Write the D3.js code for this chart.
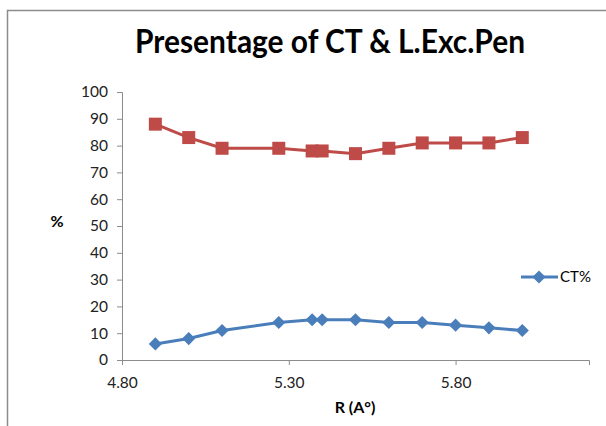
<!DOCTYPE html>
<html>
<head>
<meta charset="utf-8">
<script src="https://cdn.jsdelivr.net/npm/d3@7"></script>
<style>
  body { margin: 0; background: #fff; }
  text { font-family: Lato, "Liberation Sans", sans-serif; }
</style>
</head>
<body>
<div id="chart"></div>
<script>
// R (A°) values
const rValues = [4.90, 5.00, 5.10, 5.27, 5.37, 5.40, 5.50, 5.60, 5.70, 5.80, 5.90, 6.00];
// CT %
const ctPct = [6, 8, 11, 14, 15, 15, 15, 14, 14, 13, 12, 11];
// L.Exc.Pen %
const excPct = [88, 83, 79, 79, 78, 78, 77, 79, 81, 81, 81, 83];
const xTicks = [4.80, 5.30, 5.80];
const yTicks = [0, 10, 20, 30, 40, 50, 60, 70, 80, 90, 100];

const width = 606, height = 426;

const x = d3.scaleLinear().domain([4.8, 6.2]).range([122, 589]);
const y = d3.scaleLinear().domain([0, 100]).range([360, 92]);

const svg = d3.select('#chart').append('svg')
    .attr('width', width)
    .attr('height', height);

// chart frame
svg.append('path')
    .attr('d', 'M7.5,' + height + 'V10.5H' + width)
    .attr('fill', 'none')
    .attr('stroke', '#8c8c8c')
    .attr('stroke-width', 1.5);

// title
svg.append('text')
    .attr('x', 330)
    .attr('y', 53)
    .attr('text-anchor', 'middle')
    .attr('textLength', 390)
    .attr('lengthAdjust', 'spacingAndGlyphs')
    .style('font-size', '32px')
    .style('font-weight', 'bold')
    .text('Presentage of CT & L.Exc.Pen');

// axes
const xAxis = svg.append('g')
    .attr('transform', 'translate(0,' + y(0) + ')')
    .call(d3.axisBottom(x).tickValues(xTicks).tickFormat(d3.format('.2f')).tickSizeOuter(0).tickSize(5));

const yAxis = svg.append('g')
    .attr('transform', 'translate(' + x(4.8) + ',0)')
    .call(d3.axisLeft(y).tickValues(yTicks).tickSizeOuter(0).tickSize(5));

[xAxis, yAxis].forEach(function(a) {
  a.select('.domain').attr('stroke', '#8c8c8c');
  a.selectAll('.tick line').attr('stroke', '#8c8c8c');
  a.selectAll('.tick text')
      .style('font-size', '15.5px')
      .style('font-family', 'Lato, "Liberation Sans", sans-serif')
      .attr('fill', '#222');
});
yAxis.selectAll('.tick text').attr('x', -14);
xAxis.selectAll('.tick text').attr('y', 17);

// axis titles
svg.append('text')
    .attr('x', 57)
    .attr('y', 227)
    .attr('text-anchor', 'middle')
    .style('font-size', '16px')
    .style('font-weight', 'bold')
    .text('%');

svg.append('text')
    .attr('x', 355)
    .attr('y', 413)
    .attr('text-anchor', 'middle')
    .style('font-size', '16px')
    .style('font-weight', 'bold')
    .text('R (A°)');

const data = rValues.map(function(r, i) {
  return { r: r, ct: ctPct[i], exc: excPct[i] };
});

const ctLine = d3.line()
    .x(function(d) { return x(d.r); })
    .y(function(d) { return y(d.ct); });

const excLine = d3.line()
    .x(function(d) { return x(d.r); })
    .y(function(d) { return y(d.exc); });

const blue = '#4a7ebb', red = '#be4b48';

svg.append('path')
    .datum(data)
    .attr('fill', 'none')
    .attr('stroke', red)
    .attr('stroke-width', 3)
    .attr('d', excLine);

svg.selectAll('.sq')
    .data(data)
  .enter().append('rect')
    .attr('class', 'sq')
    .attr('x', function(d) { return x(d.r) - 6.5; })
    .attr('y', function(d) { return y(d.exc) - 6.5; })
    .attr('width', 13)
    .attr('height', 13)
    .attr('fill', red);

svg.append('path')
    .datum(data)
    .attr('fill', 'none')
    .attr('stroke', blue)
    .attr('stroke-width', 3)
    .attr('d', ctLine);

const diamond = d3.symbol().type(d3.symbolDiamond2).size(110);

svg.selectAll('.dm')
    .data(data)
  .enter().append('path')
    .attr('class', 'dm')
    .attr('transform', function(d) { return 'translate(' + x(d.r) + ',' + y(d.ct) + ')'; })
    .attr('d', diamond)
    .attr('fill', blue);

// legend
const legend = svg.append('g').attr('transform', 'translate(521,277)');
legend.append('line')
    .attr('x1', 0).attr('x2', 37)
    .attr('stroke', blue)
    .attr('stroke-width', 3);
legend.append('path')
    .attr('transform', 'translate(18,0)')
    .attr('d', diamond)
    .attr('fill', blue);
legend.append('text')
    .attr('x', 39)
    .attr('y', 5)
    .style('font-size', '15px')
    .text('CT%');
</script>
</body>
</html>
